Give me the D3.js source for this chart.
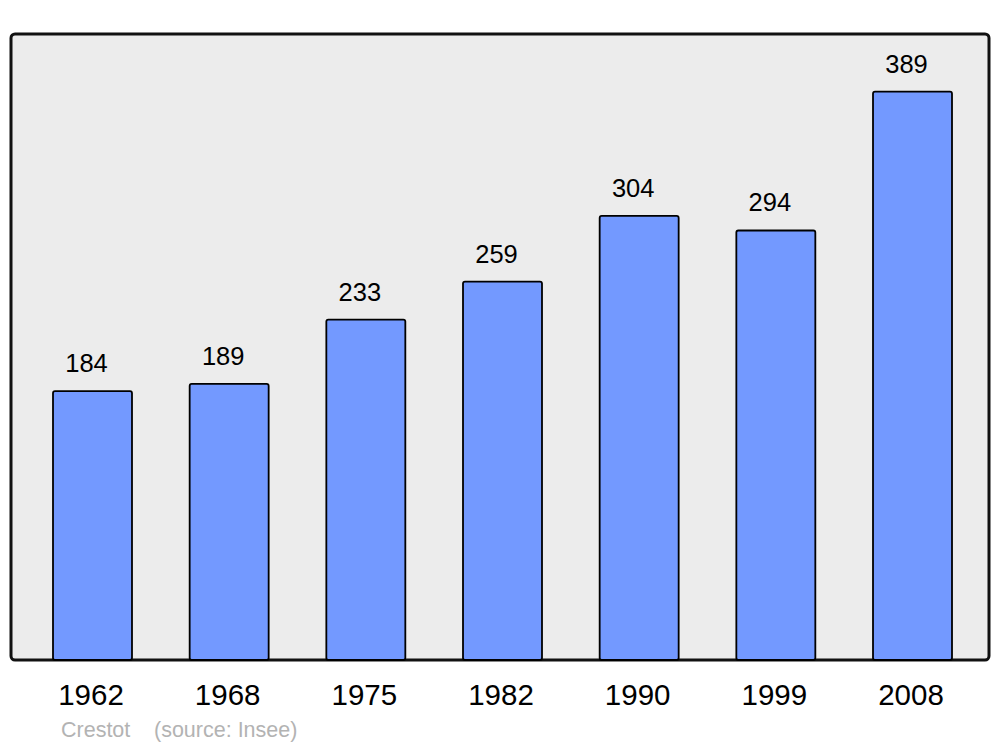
<!DOCTYPE html>
<html><head><meta charset="utf-8">
<script src="https://cdn.jsdelivr.net/npm/d3@7"></script>
<style>body{margin:0;background:#fff}svg{display:block}</style>
</head><body>
<script>
const years = ["1962","1968","1975","1982","1990","1999","2008"];
const population = [184,189,233,259,304,294,389];
const sourceText = ["Crestot", "(source: Insee)"];

const W = 1000, H = 747;
const svg = d3.select("body").append("svg").attr("width", W).attr("height", H);

const x = d3.scaleBand().domain(years).range([53, 952]).paddingInner(0.422).paddingOuter(0);
const y = d3.scaleLinear().domain([0, 428.5]).range([660, 34]);

svg.append("rect").attr("x", 11).attr("y", 34).attr("width", 978).attr("height", 626)
  .attr("rx", 4).attr("fill", "#ececec").attr("stroke", "#111").attr("stroke-width", 3);

svg.selectAll("rect.bar").data(population).join("rect").attr("class","bar")
  .attr("x", (d,i)=>x(years[i]))
  .attr("y", d=>y(d))
  .attr("width", x.bandwidth())
  .attr("height", d=>y(0)-y(d))
  .attr("rx", 2)
  .attr("fill", "#7399ff").attr("stroke", "#000").attr("stroke-width", 1.8);

svg.selectAll("text.val").data(population).join("text").attr("class","val")
  .attr("x", (d,i)=>x(years[i]) + x.bandwidth()/2 - 6)
  .attr("y", d=>y(d) - 19)
  .attr("text-anchor","middle")
  .attr("font-family","Liberation Sans, Arial, sans-serif")
  .attr("font-size", 25.5).attr("fill","#000")
  .text(d=>d);

const xAxis = svg.append("g").attr("transform","translate(0,660)")
  .call(d3.axisBottom(x).tickSize(0).tickPadding(0));
xAxis.select(".domain").remove();
xAxis.selectAll("text").attr("x", -1.5).attr("y", 45).attr("dy", null)
  .attr("font-family","Liberation Sans, Arial, sans-serif").attr("font-size", 29.5).attr("fill","#000");

svg.append("text").attr("x", 61).attr("y", 737)
  .attr("font-family","Liberation Sans, Arial, sans-serif").attr("font-size", 21.5).attr("fill","#b3b3b3")
  .text(sourceText[0]);
svg.append("text").attr("x", 154).attr("y", 737)
  .attr("font-family","Liberation Sans, Arial, sans-serif").attr("font-size", 21.5).attr("fill","#b3b3b3")
  .text(sourceText[1]);
</script>
</body></html>
